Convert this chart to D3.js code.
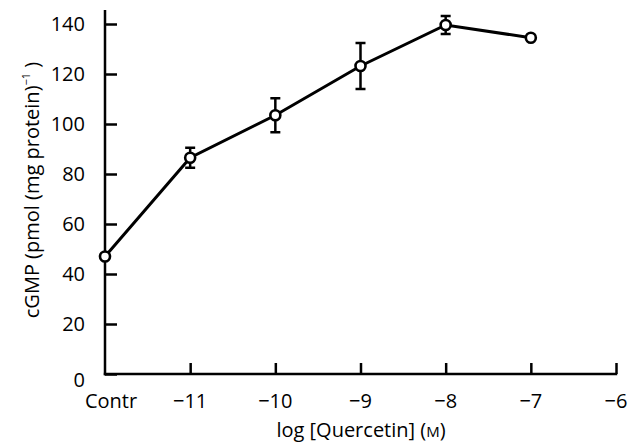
<!DOCTYPE html>
<html>
<head>
    <script src="https://d3js.org/d3.v7.min.js"></script>
    <style>
        body { margin: 0; background: #fff; }
        text { font-family: "Open Sans", "Noto Sans", sans-serif; fill: #000; }
    </style>
</head>
<body>
    <div id="chart"></div>
    <script>
        let categories = ["Contr", "\u221211", "\u221210", "\u22129", "\u22128", "\u22127", "\u22126"];
        let cgmp = [47, 86.5, 103.5, 123.2, 139.6, 134.5];
        let sem = [0, 4, 6.8, 9.2, 3.6, 0];
        let yTicks = [0, 20, 40, 60, 80, 100, 120, 140];

        let width = 628, height = 445;
        let marginLeft = 105, plotRight = 616, plotTop = 24, plotBottom = 374;

        let svg = d3.select("#chart").append("svg")
            .attr("width", width)
            .attr("height", height);

        let x = d3.scalePoint()
            .domain(categories)
            .range([marginLeft, plotRight]);

        let y = d3.scaleLinear()
            .domain([0, 140])
            .range([plotBottom, plotTop]);

        // y axis
        let yAxis = svg.append("g")
            .attr("transform", `translate(${marginLeft},0)`)
            .call(d3.axisRight(y).tickValues(yTicks).tickSize(12).tickFormat(""));
        yAxis.select(".domain").remove();
        yAxis.selectAll(".tick line").attr("stroke", "#000").attr("stroke-width", 2.5);
        svg.append("line")
            .attr("x1", marginLeft).attr("x2", marginLeft)
            .attr("y1", 10).attr("y2", plotBottom + 1.2)
            .attr("stroke", "#000").attr("stroke-width", 2.5);

        svg.selectAll(".ylab")
            .data(yTicks)
            .join("text")
            .attr("class", "ylab")
            .attr("x", 85)
            .attr("y", d => y(d) + (d === 0 ? 13 : 7))
            .attr("text-anchor", "end")
            .attr("font-size", 20)
            .text(d => d);

        // x axis
        let xAxis = svg.append("g")
            .attr("transform", `translate(0,${plotBottom})`)
            .call(d3.axisTop(x).tickSize(11).tickFormat(""));
        xAxis.select(".domain").remove();
        xAxis.selectAll(".tick line").attr("stroke", "#000").attr("stroke-width", 2.5)
            .filter(d => d === categories[0]).remove();
        svg.append("line")
            .attr("x1", marginLeft - 1.2).attr("x2", plotRight + 1.2)
            .attr("y1", plotBottom).attr("y2", plotBottom)
            .attr("stroke", "#000").attr("stroke-width", 2.5);

        svg.selectAll(".xlab")
            .data(categories)
            .join("text")
            .attr("class", "xlab")
            .attr("x", d => x(d) + (d === categories[0] ? 6 : 0))
            .attr("y", 408)
            .attr("text-anchor", "middle")
            .attr("font-size", 20)
            .text(d => d);

        // axis titles
        let xt = svg.append("text")
            .attr("x", 361)
            .attr("y", 437)
            .attr("text-anchor", "middle")
            .attr("font-size", 20);
        xt.append("tspan").text("log [Quercetin] (");
        xt.append("tspan").attr("font-size", 15).text("M");
        xt.append("tspan").text(")");

        let yt = svg.append("text")
            .attr("transform", "translate(39,190) rotate(-90)")
            .attr("text-anchor", "middle")
            .attr("font-size", 20);
        yt.append("tspan").text("cGMP (pmol (mg protein)");
        yt.append("tspan").attr("font-size", 11).attr("dy", -9).text("\u22121");
        yt.append("tspan").attr("dy", 9).text(" )");

        let pts = cgmp.map((v, i) => ({ cat: categories[i], v: v, e: sem[i] }));

        // error bars
        let eb = svg.append("g").attr("stroke", "#000").attr("stroke-width", 2.5);
        pts.filter(d => d.e > 0).forEach(d => {
            let cx = x(d.cat);
            eb.append("line").attr("x1", cx).attr("x2", cx)
                .attr("y1", y(d.v - d.e)).attr("y2", y(d.v + d.e));
            eb.append("line").attr("x1", cx - 5).attr("x2", cx + 5)
                .attr("y1", y(d.v - d.e)).attr("y2", y(d.v - d.e));
            eb.append("line").attr("x1", cx - 5).attr("x2", cx + 5)
                .attr("y1", y(d.v + d.e)).attr("y2", y(d.v + d.e));
        });

        // line
        let line = d3.line()
            .x(d => x(d.cat))
            .y(d => y(d.v));
        svg.append("path")
            .datum(pts)
            .attr("fill", "none")
            .attr("stroke", "#000")
            .attr("stroke-width", 3)
            .attr("d", line);

        svg.selectAll(".pt")
            .data(pts)
            .join("circle")
            .attr("class", "pt")
            .attr("cx", d => x(d.cat))
            .attr("cy", d => y(d.v))
            .attr("r", 5)
            .attr("fill", "#fff")
            .attr("stroke", "#000")
            .attr("stroke-width", 2.6);
    </script>
</body>
</html>
